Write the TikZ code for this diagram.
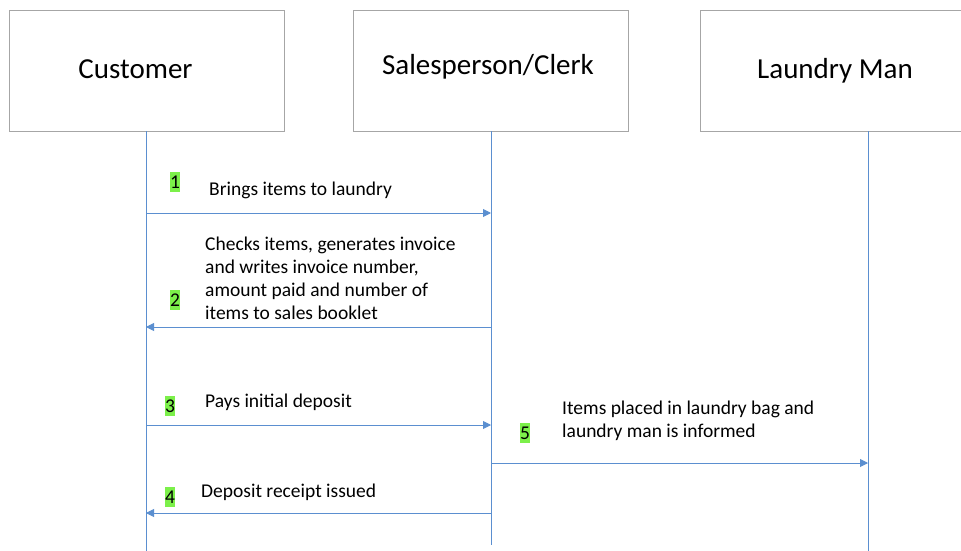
\documentclass[tikz,border=0pt]{standalone}
\usepackage{fontspec}
\setmainfont{Carlito}
\usetikzlibrary{arrows.meta}
\definecolor{lifeblue}{HTML}{5B8FD0}
\definecolor{boxgray}{HTML}{A6A6A6}
\definecolor{badgegreen}{HTML}{7CF04A}
\tikzset{
  actor/.style={draw=boxgray, line width=1pt, fill=white, minimum width=275pt,
    minimum height=120pt, inner sep=0pt},
  actorname/.style={inner sep=0pt, font=\fontsize{29}{34}\selectfont},
  lifeline/.style={draw=lifeblue, line width=0.9pt},
  msg/.style={draw=lifeblue, line width=0.9pt, -{Triangle[length=8pt,width=8pt]}},
  msgtext/.style={anchor=west, align=left, inner sep=0pt,
    font=\fontsize{19.5}{23}\selectfont},
  badge/.style={fill=badgegreen, inner xsep=0.5pt, inner ysep=3.5pt,
    font=\fontsize{19.5}{22}\selectfont}
}
\begin{document}
\begin{tikzpicture}[x=1pt, y=-1pt]
\useasboundingbox (0,0) rectangle (961,551);
\clip (0,0) rectangle (961,551);
\fill[white] (0,0) rectangle (961,551);

% participants
\node[actor] (cust) at (146.5,71) {};
\node[actorname] (custName) at (135.5,69) {Customer};
\node[actor] (clerk) at (490.5,71) {};
\node[actorname] (clerkName) at (488,67) {Salesperson/Clerk};
\node[actor] (lman) at (837.5,71) {};
\node[actorname] (lmanName) at (835,71) {Laundry Man};

% lifeline anchors
\coordinate (custTop) at (146,131);
\coordinate (custEnd) at (146,551);
\coordinate (clerkTop) at (491,131);
\coordinate (clerkEnd) at (491,545);
\coordinate (lmanTop) at (868,131);
\coordinate (lmanEnd) at (868,551);
\draw[lifeline] (custTop) -- (custEnd);
\draw[lifeline] (clerkTop) -- (clerkEnd);
\draw[lifeline] (lmanTop) -- (lmanEnd);

% message end points
\coordinate (c1) at (146,213); \coordinate (s1) at (491,213);
\coordinate (c2) at (146,327); \coordinate (s2) at (491,327);
\coordinate (c3) at (146,425); \coordinate (s3) at (491,425);
\coordinate (s5) at (491,463); \coordinate (l5) at (868,463);
\coordinate (c4) at (146,513); \coordinate (s4) at (491,513);

\draw[msg] (c1) -- (s1);
\draw[msg] (s2) -- (c2);
\draw[msg] (c3) -- (s3);
\draw[msg] (s5) -- (l5);
\draw[msg] (s4) -- (c4);

% message labels
\node[msgtext] (t1) at (209,190) {Brings items to laundry};
\node[msgtext] (t2) at (205,278) {Checks items, generates invoice\\and writes invoice number,\\amount paid and number of\\items to sales booklet};
\node[msgtext] (t3) at (205,402) {Pays initial deposit};
\node[msgtext] (t5) at (562,421) {Items placed in laundry bag and\\laundry man is informed};
\node[msgtext] (t4) at (201,492) {Deposit receipt issued};

% step numbers
\node[badge] (b1) at (175,182) {1};
\node[badge] (b2) at (175,300) {2};
\node[badge] (b3) at (170,406) {3};
\node[badge] (b5) at (525,433) {5};
\node[badge] (b4) at (170,497) {4};
\end{tikzpicture}
\end{document}
